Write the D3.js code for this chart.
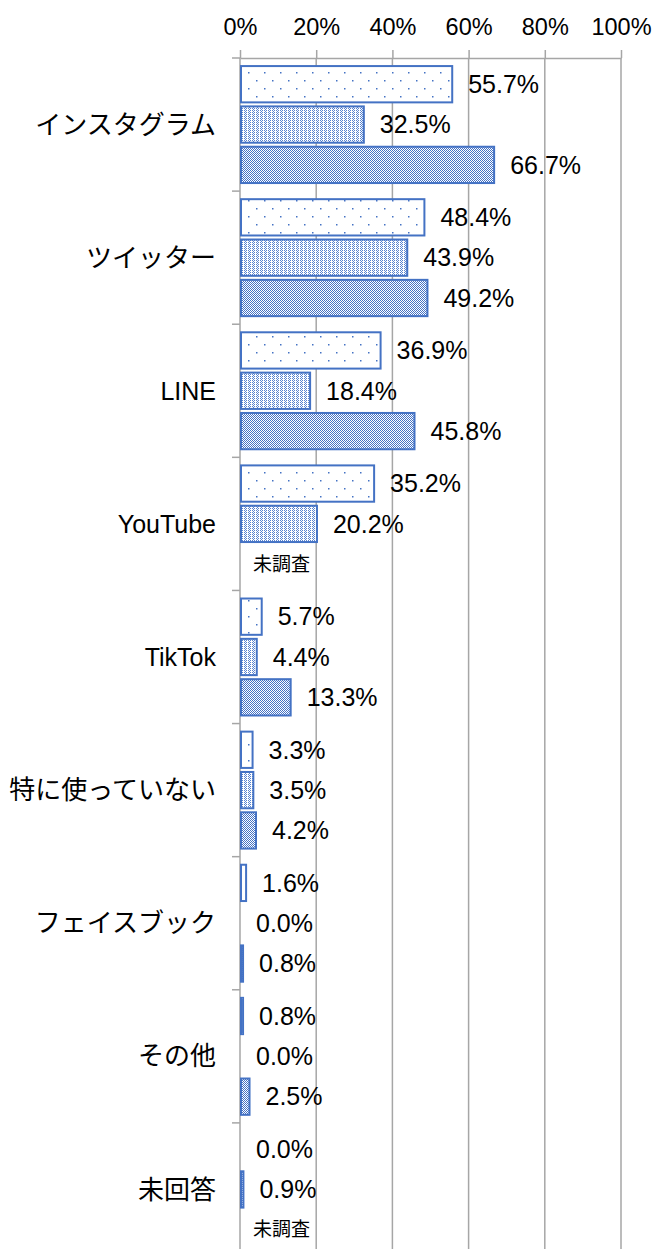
<!DOCTYPE html>
<html>
<head>
<meta charset="utf-8">
<script src="https://cdn.jsdelivr.net/npm/d3@7"></script>
<style>
  body { margin: 0; background: #fff; }
  text { font-family: "Liberation Sans", Arial, "Noto Sans CJK JP", sans-serif; fill: #000; }
</style>
</head>
<body>
<div id="chart"></div>
<script>
const categories = ["インスタグラム", "ツイッター", "LINE", "YouTube", "TikTok", "特に使っていない", "フェイスブック", "その他", "未回答"];
const series1 = [55.7, 48.4, 36.9, 35.2, 5.7, 3.3, 1.6, 0.8, 0.0];
const series2 = [32.5, 43.9, 18.4, 20.2, 4.4, 3.5, 0.0, 0.0, 0.9];
const series3 = [66.7, 49.2, 45.8, null, 13.3, 4.2, 0.8, 2.5, null];
const xTicks = [0, 20, 40, 60, 80, 100];
const missingLabel = "未調査";

const W = 657, H = 1249;
const margin = { top: 58, left: 240, right: 36 };
const plotBottom = 1256;
const blue = "#4472C4";
const gridColor = "#a6a6a6";

const svg = d3.select("#chart").append("svg")
  .attr("width", W).attr("height", H);

// fill patterns for the three series
const defs = svg.append("defs");
function pattern(id, w, h, dots, color) {
  const p = defs.append("pattern")
    .attr("id", id).attr("patternUnits", "userSpaceOnUse")
    .attr("width", w).attr("height", h);
  p.append("rect").attr("width", w).attr("height", h).attr("fill", "#fff");
  dots.forEach(d => p.append("rect")
    .attr("x", d[0]).attr("y", d[1]).attr("width", d[2]).attr("height", d[3])
    .attr("fill", color));
}
pattern("p1", 16, 16, [[0, 0, 1.5, 1.5], [8, 8, 1.5, 1.5]], blue);
pattern("p2", 4, 2, [[0, 0, 1, 1], [2, 0, 1, 1], [1, 1, 1, 1]], "#5a84d0");
pattern("p3", 2, 2, [[0, 0, 1, 1], [1, 1, 1, 1]], blue);

const x = d3.scaleLinear().domain([0, 100]).range([margin.left, 621]);
const y = d3.scaleBand().domain(categories).range([margin.top, plotBottom]).padding(0);
const ySub = d3.scaleBand().domain([0, 1, 2]).range([0, y.bandwidth()])
  .paddingInner(0.1).paddingOuter(0.2);

// gridlines
svg.append("g").selectAll("line").data(xTicks).join("line")
  .attr("x1", d => x(d)).attr("x2", d => x(d))
  .attr("y1", margin.top).attr("y2", H)
  .attr("stroke", gridColor).attr("stroke-width", 1.5);

// top axis
const xAxis = svg.append("g")
  .attr("transform", `translate(0,${margin.top})`)
  .call(d3.axisTop(x).tickValues(xTicks).tickFormat(d => d + "%").tickSize(8).tickPadding(15).tickSizeOuter(0));
xAxis.select(".domain").attr("stroke", gridColor).attr("stroke-width", 1.5);
xAxis.selectAll(".tick line").attr("stroke", gridColor).attr("stroke-width", 1.5);
xAxis.selectAll("text").style("font-size", "23.5px")
  .style("font-family", "'Liberation Sans', Arial, sans-serif").attr("fill", "#000");

// left category boundary ticks
const bounds = categories.map(c => y(c)).concat([plotBottom]);
svg.append("g").selectAll("line").data(bounds).join("line")
  .attr("x1", margin.left - 8).attr("x2", margin.left)
  .attr("y1", d => d).attr("y2", d => d)
  .attr("stroke", gridColor).attr("stroke-width", 1.5);

// category labels
svg.append("g").selectAll("text").data(categories).join("text")
  .attr("x", 216)
  .attr("y", d => y(d) + y.bandwidth() / 2)
  .attr("dy", "0.35em")
  .attr("text-anchor", "end")
  .style("font-size", d => /^[A-Za-z]/.test(d) ? "25px" : "26px")
  .text(d => d);

// bars
const allSeries = [series1, series2, series3];
const rows = [];
categories.forEach((c, i) => {
  allSeries.forEach((s, k) => rows.push({ cat: c, k: k, v: s[i] }));
});

const g = svg.append("g");
g.selectAll("rect").data(rows.filter(d => d.v !== null && d.v > 0)).join("rect")
  .attr("x", x(0) + 1)
  .attr("y", d => y(d.cat) + ySub(d.k))
  .attr("width", d => Math.max(x(d.v) - x(0) - 1, 1))
  .attr("height", ySub.bandwidth())
  .attr("fill", d => `url(#p${d.k + 1})`)
  .attr("stroke", blue).attr("stroke-width", 2);

// value labels (or "未調査" where the item was not surveyed)
g.selectAll("text").data(rows).join("text")
  .attr("x", d => d.v === null ? x(0) + 13 : x(d.v) + 16)
  .attr("y", d => y(d.cat) + ySub(d.k) + ySub.bandwidth() / 2)
  .attr("dy", "0.35em")
  .style("font-size", d => d.v === null ? "19px" : "25px")
  .text(d => d.v === null ? missingLabel : d.v.toFixed(1) + "%");
</script>
</body>
</html>
